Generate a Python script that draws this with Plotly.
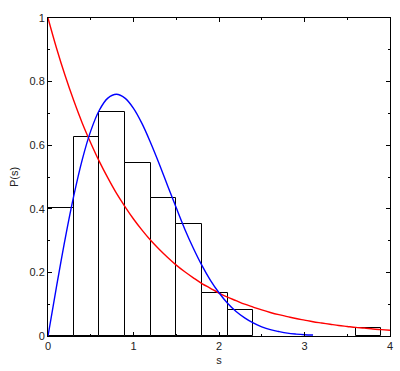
import plotly.graph_objects as go

# Histogram bins (left edges, width 0.3) and heights
bin_left = [0.0, 0.3, 0.6, 0.9, 1.2, 1.5, 1.8, 2.1, 3.6]
bin_height = [0.404, 0.625, 0.705, 0.543, 0.433, 0.351, 0.134, 0.081, 0.025]
bin_width = 0.3

# Poisson curve (red)
s_red = [round(0.1 * i, 1) for i in range(41)]
p_red = [1.000, 0.905, 0.819, 0.741, 0.670, 0.607, 0.549, 0.497, 0.449, 0.407,
         0.368, 0.333, 0.301, 0.273, 0.247, 0.223, 0.202, 0.183, 0.165, 0.150,
         0.135, 0.122, 0.111, 0.100, 0.091, 0.082, 0.074, 0.067, 0.061, 0.055,
         0.050, 0.045, 0.041, 0.037, 0.033, 0.030, 0.027, 0.025, 0.022, 0.020,
         0.018]

# Wigner curve (blue)
s_blue = [round(0.1 * i, 1) for i in range(32)]
p_blue = [0.000, 0.156, 0.305, 0.439, 0.554, 0.645, 0.710, 0.748, 0.760, 0.748,
          0.716, 0.668, 0.608, 0.542, 0.472, 0.403, 0.336, 0.276, 0.222, 0.175,
          0.136, 0.103, 0.077, 0.057, 0.041, 0.029, 0.020, 0.014, 0.009, 0.006,
          0.004, 0.003]

x_ticks = [0, 1, 2, 3, 4]
y_ticks = [0, 0.2, 0.4, 0.6, 0.8, 1]
y_tick_text = ["0", "0.2", "0.4", "0.6", "0.8", "1"]

fig = go.Figure()
fig.add_trace(go.Bar(
    x=[b + bin_width / 2 for b in bin_left], y=bin_height, width=bin_width,
    marker=dict(color="white", line=dict(color="black", width=1)),
    showlegend=False, hoverinfo="skip"))
fig.add_trace(go.Scatter(x=s_red, y=p_red, mode="lines", line=dict(color="#ff0000", width=1.4, shape="spline"),
                         showlegend=False))
fig.add_trace(go.Scatter(x=s_blue, y=p_blue, mode="lines", line=dict(color="#0000ff", width=1.4, shape="spline"),
                         showlegend=False))

font = dict(family="Liberation Sans, Arial, sans-serif", size=11, color="#222222")
fig.update_layout(
    width=400, height=371,
    margin=dict(l=48, r=10, t=18, b=35),
    paper_bgcolor="white", plot_bgcolor="white",
    font=font, bargap=0,
    xaxis=dict(range=[0, 4], tickvals=x_ticks, ticktext=[str(v) for v in x_ticks],
               showgrid=False, zeroline=False, showline=True, linecolor="black", linewidth=1,
               mirror="allticks", ticks="inside", ticklen=4, tickcolor="black",
               minor=dict(dtick=0.5, ticks="inside", ticklen=2, tickcolor="black"),
               title=dict(text="s", standoff=5, font=font), automargin=False),
    yaxis=dict(range=[0, 1], tickvals=y_ticks, ticktext=y_tick_text,
               showgrid=False, zeroline=False, showline=True, linecolor="black", linewidth=1,
               mirror="allticks", ticks="inside", ticklen=4, tickcolor="black",
               minor=dict(dtick=0.1, ticks="inside", ticklen=2, tickcolor="black"),
               title=dict(text="P(s)", standoff=8, font=font), automargin=False),
)
fig.write_html("out.html", config={"displayModeBar": False},
               post_script="document.body.style.margin='0';document.body.style.padding='0';")
